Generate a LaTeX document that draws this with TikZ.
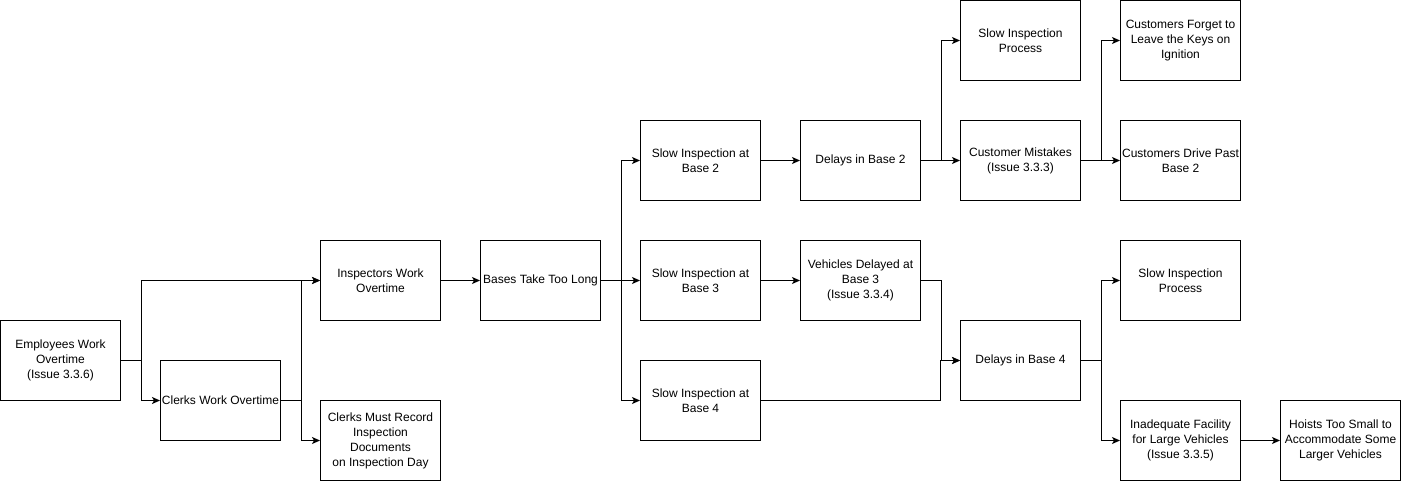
\documentclass[tikz,border=0pt]{standalone}
\usepackage{fontspec}
\setmainfont{Liberation Sans}
\usetikzlibrary{arrows.meta}
\begin{document}
\begin{tikzpicture}[x=1pt,y=-1pt,
  box/.style={draw,line width=1pt,minimum width=120pt,minimum height=80pt,inner sep=0pt,align=center,font=\fontsize{12}{15}\selectfont},
  arr/.style={line width=1pt,-{Stealth[length=8pt,width=7pt,inset=2pt]}}]
\useasboundingbox (0,0) rectangle (1401,481);
\node[box] (emp) at (60.5,360.5) {Employees Work\\Overtime\\(Issue 3.3.6)};
\node[box] (cwo) at (220.5,400.5) {Clerks Work Overtime};
\node[box] (iwo) at (380.5,280.5) {Inspectors Work\\Overtime};
\node[box] (cmr) at (380.5,440.5) {Clerks Must Record\\Inspection\\Documents\\on Inspection Day};
\node[box] (btl) at (540.5,280.5) {Bases Take Too Long};
\node[box] (sb2) at (700.5,160.5) {Slow Inspection at\\Base 2};
\node[box] (sb3) at (700.5,280.5) {Slow Inspection at\\Base 3};
\node[box] (sb4) at (700.5,400.5) {Slow Inspection at\\Base 4};
\node[box] (d2) at (860.5,160.5) {Delays in Base 2};
\node[box] (vd3) at (860.5,280.5) {Vehicles Delayed at\\Base 3\\(Issue 3.3.4)};
\node[box] (sip1) at (1020.5,40.5) {Slow Inspection\\Process};
\node[box] (cm) at (1020.5,160.5) {Customer Mistakes\\(Issue 3.3.3)};
\node[box] (d4) at (1020.5,360.5) {Delays in Base 4};
\node[box] (cfk) at (1180.5,40.5) {Customers Forget to\\Leave the Keys on\\Ignition};
\node[box] (cdp) at (1180.5,160.5) {Customers Drive Past\\Base 2};
\node[box] (sip2) at (1180.5,280.5) {Slow Inspection\\Process};
\node[box] (ifl) at (1180.5,440.5) {Inadequate Facility\\for Large Vehicles\\(Issue 3.3.5)};
\node[box] (hts) at (1340.5,440.5) {Hoists Too Small to\\Accommodate Some\\Larger Vehicles};
\draw[arr] (emp.east) -- ++(20,0) |- (iwo.west);
\draw[arr] (emp.east) -- ++(20,0) |- (cwo.west);
\draw[arr] (cwo.east) -- ++(20,0) |- (iwo.west);
\draw[arr] (cwo.east) -- ++(20,0) |- (cmr.west);
\draw[arr] (iwo.east) -- (btl.west);
\draw[arr] (btl.east) -- ++(20,0) |- (sb2.west);
\draw[arr] (btl.east) -- (sb3.west);
\draw[arr] (btl.east) -- ++(20,0) |- (sb4.west);
\draw[arr] (sb2.east) -- (d2.west);
\draw[arr] (sb3.east) -- (vd3.west);
\draw[arr] (d2.east) -- ++(20,0) |- (sip1.west);
\draw[arr] (d2.east) -- (cm.west);
\draw[arr] (cm.east) -- ++(20,0) |- (cfk.west);
\draw[arr] (cm.east) -- (cdp.west);
\draw[arr] (vd3.east) -- ++(20,0) |- (d4.west);
\draw[arr] (sb4.east) -| ([xshift=-20pt]d4.west) -- (d4.west);
\draw[arr] (d4.east) -- ++(20,0) |- (sip2.west);
\draw[arr] (d4.east) -- ++(20,0) |- (ifl.west);
\draw[arr] (ifl.east) -- (hts.west);
\end{tikzpicture}
\end{document}
